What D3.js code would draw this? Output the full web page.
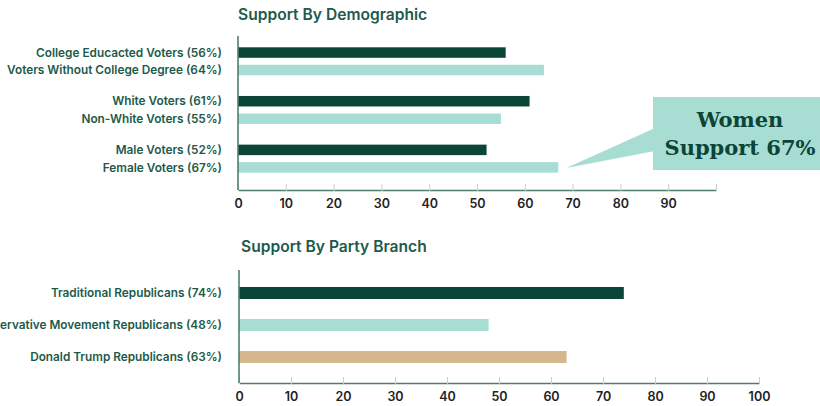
<!DOCTYPE html>
<html>
<head>
<meta charset="utf-8">
<script src="https://cdn.jsdelivr.net/npm/d3@7"></script>
<style>
  body { margin: 0; background: #fff; }
  svg { display: block; }
</style>
</head>
<body>
<div class="viz"></div>
<script>
// top panel: pairs of demographic groups
const demoGroups = ['education', 'race', 'gender']
const demoLabels = [
  ['College Educacted Voters', 'Voters Without College Degree'],
  ['White Voters', 'Non-White Voters'],
  ['Male Voters', 'Female Voters']
]
const demoValues = [[56, 64], [61, 55], [52, 67]]

// bottom panel: party branches
const partyLabels = ['Traditional Republicans', 'Conservative Movement Republicans', 'Donald Trump Republicans']
const partyValues = [74, 48, 63]

const tickVals = [0, 10, 20, 30, 40, 50, 60, 70, 80, 90, 100]

const dark = '#0b4538'
const light = '#a8ddd4'
const tan = '#d4b78b'
const textGreen = '#1d5a4b'
const axisColor = '#4f7d72'

const width = 820
const height = 406
const labelFont = 'Inter, "Open Sans", sans-serif'

const svg = d3.select('.viz')
  .append('svg')
  .attr('width', width)
  .attr('height', height)

// ---------- TOP: Support By Demographic ----------
const x1 = d3.scaleLinear().domain([0, 100]).range([238, 716])
const yGroup = d3.scaleBand().domain(demoGroups).range([40, 186]).paddingInner(0.3).paddingOuter(0.15)
const yPair = d3.scaleBand().domain([0, 1]).range([0, 28]).paddingInner(0.4)

svg.append('text')
  .text('Support By Demographic')
  .attr('x', 238)
  .attr('y', 20)
  .attr('font-family', labelFont)
  .attr('font-size', 15.6)
  .attr('font-weight', 600)
  .attr('fill', textGreen)

const demoRows = []
demoGroups.forEach((g, gi) => {
  demoValues[gi].forEach((v, j) => {
    demoRows.push({ group: g, idx: j, value: v, label: demoLabels[gi][j] })
  })
})

const topPanel = svg.append('g')

topPanel.selectAll('rect')
  .data(demoRows)
  .enter()
  .append('rect')
  .attr('x', x1(0))
  .attr('y', d => yGroup(d.group) + yPair(d.idx))
  .attr('width', d => x1(d.value) - x1(0))
  .attr('height', yPair.bandwidth())
  .attr('fill', d => d.idx === 0 ? dark : light)

topPanel.selectAll('text.lbl')
  .data(demoRows)
  .enter()
  .append('text')
  .attr('class', 'lbl')
  .text(d => `${d.label} (${d.value}%)`)
  .attr('x', 222)
  .attr('y', d => yGroup(d.group) + yPair(d.idx) + yPair.bandwidth() / 2)
  .attr('dy', '0.35em')
  .attr('text-anchor', 'end')
  .attr('font-family', labelFont)
  .attr('font-size', 11.8)
  .attr('font-weight', 600)
  .attr('fill', textGreen)

const drawAxis = (xs, yTop, yBase, hideLast) => {
  const ax = svg.append('g')
    .attr('transform', `translate(0,${yBase})`)
    .call(d3.axisBottom(xs)
      .tickValues(tickVals)
      .tickFormat(d => (hideLast && d === 100) ? '' : d)
      .tickSizeInner(-6)
      .tickSizeOuter(0)
      .tickPadding(9))
  ax.select('.domain').attr('stroke', axisColor).attr('stroke-width', 1.6)
  ax.selectAll('.tick line').attr('stroke', '#c9cfcd').attr('stroke-width', 1).attr('y2', -6).attr('y1', 1)
  ax.selectAll('.tick text')
    .attr('font-family', labelFont)
    .attr('font-size', 12.5)
    .attr('font-weight', 600)
    .attr('fill', '#222')
  svg.append('line')
    .attr('x1', xs(0)).attr('x2', xs(0))
    .attr('y1', yTop).attr('y2', yBase)
    .attr('stroke', axisColor)
    .attr('stroke-width', 1.6)
}

drawAxis(x1, 36, 190, true)

// callout for female voters
const femaleY = yGroup('gender') + yPair(1) + yPair.bandwidth() / 2
const call = svg.append('g')
call.append('path')
  .attr('d', `M ${x1(67) + 8},${femaleY + 0.5} L 655,128 L 655,151 Z`)
  .attr('fill', light)
call.append('rect')
  .attr('x', 653)
  .attr('y', 97)
  .attr('width', 180)
  .attr('height', 73)
  .attr('fill', light)
call.append('text')
  .text('Women')
  .attr('x', 740)
  .attr('y', 127)
  .attr('text-anchor', 'middle')
  .attr('font-family', '"DejaVu Serif", serif')
  .attr('font-size', 21)
  .attr('font-weight', 700)
  .attr('fill', dark)
call.append('text')
  .text('Support 67%')
  .attr('x', 740)
  .attr('y', 155)
  .attr('text-anchor', 'middle')
  .attr('font-family', '"DejaVu Serif", serif')
  .attr('font-size', 21)
  .attr('font-weight', 700)
  .attr('fill', dark)

// ---------- BOTTOM: Support By Party Branch ----------
const x2 = d3.scaleLinear().domain([0, 100]).range([239, 759])
const y2 = d3.scaleBand().domain(partyLabels).range([273, 377]).paddingInner(0.625).paddingOuter(0.4375)
const partyColors = [dark, light, tan]

svg.append('text')
  .text('Support By Party Branch')
  .attr('x', 241)
  .attr('y', 252)
  .attr('font-family', labelFont)
  .attr('font-size', 15.6)
  .attr('font-weight', 600)
  .attr('fill', textGreen)

const bottomPanel = svg.append('g')

bottomPanel.selectAll('rect')
  .data(partyLabels)
  .enter()
  .append('rect')
  .attr('x', x2(0))
  .attr('y', d => y2(d))
  .attr('width', (d, i) => x2(partyValues[i]) - x2(0))
  .attr('height', y2.bandwidth())
  .attr('fill', (d, i) => partyColors[i])

bottomPanel.selectAll('text')
  .data(partyLabels)
  .enter()
  .append('text')
  .text((d, i) => `${d} (${partyValues[i]}%)`)
  .attr('x', 222)
  .attr('y', d => y2(d) + y2.bandwidth() / 2)
  .attr('dy', '0.35em')
  .attr('text-anchor', 'end')
  .attr('font-family', labelFont)
  .attr('font-size', 11.8)
  .attr('font-weight', 600)
  .attr('fill', textGreen)

drawAxis(x2, 270, 383, false)
</script>
</body>
</html>
